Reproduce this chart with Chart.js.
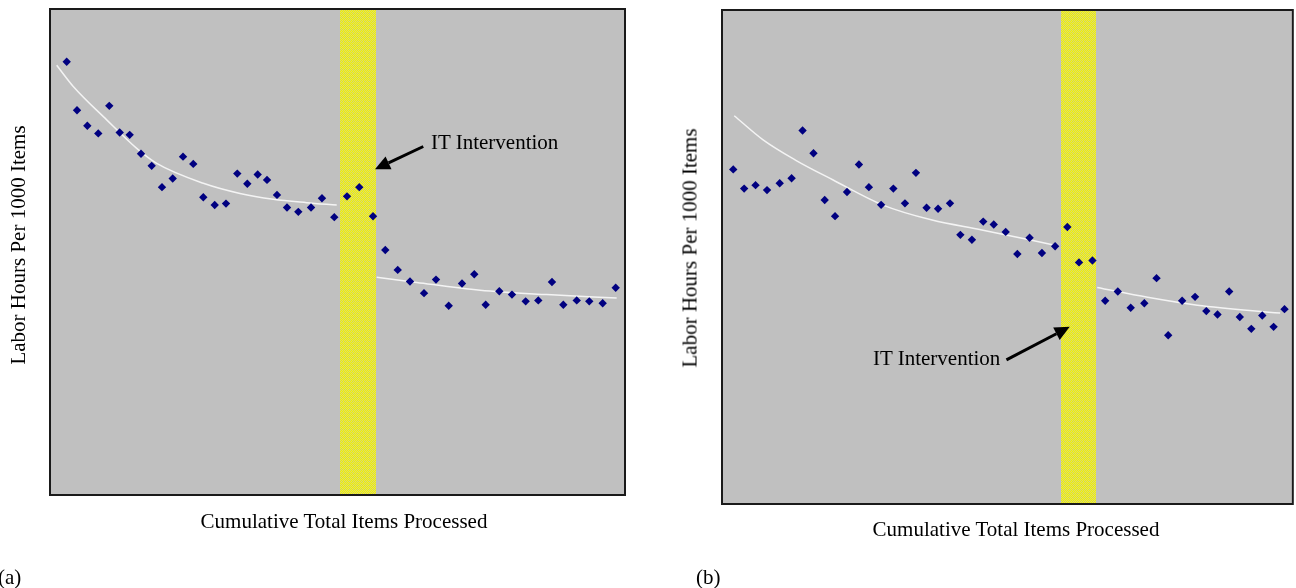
<!DOCTYPE html>
<html>
<head>
<meta charset="utf-8">
<script src="https://cdn.jsdelivr.net/npm/chart.js@4"></script>
<style>
  html, body { margin: 0; padding: 0; background: #ffffff; }
  body { width: 1296px; height: 588px; position: relative; overflow: hidden;
         font-family: "Liberation Serif", "Times New Roman", serif; color: #000; }
  canvas { position: absolute; top: 0; }
  .t { position: absolute; font-size: 21px; white-space: nowrap; line-height: 1; }
  .xt { transform: translate(-50%, -50%); }
  .yt { transform: translate(-50%, -50%) rotate(-90deg); }
  .lab { transform: translate(0, -50%); }
</style>
</head>
<body>
<canvas id="ca" width="648" height="588" style="left:0px;width:648px;height:588px"></canvas>
<canvas id="cb" width="648" height="588" style="left:648px;width:648px;height:588px"></canvas>

<div class="t yt" style="left:18px;top:245px">Labor Hours Per 1000 Items</div>
<div class="t xt" style="left:344px;top:521px">Cumulative Total Items Processed</div>
<div class="t yt" style="left:690px;top:248px">Labor Hours Per 1000 Items</div>
<div class="t xt" style="left:1016px;top:529px">Cumulative Total Items Processed</div>
<div class="t lab" style="left:-2px;top:577px">(a)</div>
<div class="t lab" style="left:696px;top:577px">(b)</div>
<div class="t lab" style="left:431px;top:142px">IT Intervention</div>
<div class="t lab" style="left:873px;top:358px">IT Intervention</div>

<script>
// ---------- Panel (a) data (x: cumulative items, relative 0-100; y: labor hours, relative 0-100) ----------
const xA = [2.74, 4.54, 6.34, 8.25, 10.17, 11.99, 13.73, 15.71, 17.57, 19.37, 21.24, 23.04, 24.83, 26.58, 28.57, 30.54,
            32.51, 34.26, 36.07, 37.70, 39.44, 41.19, 43.16, 45.38, 47.29, 49.44, 51.66, 53.80, 56.20,
            58.34, 60.51, 62.65, 65.10, 67.19, 69.41, 71.73, 73.87, 75.86, 78.24, 80.45, 82.84, 85.04, 87.43,
            89.41, 91.75, 93.94, 96.28, 98.55];
const yA = [89.3, 79.3, 76.1, 74.5, 80.2, 74.7, 74.2, 70.3, 67.8, 63.4, 65.2, 69.7, 68.2, 61.3, 59.7, 60.0,
            66.2, 64.1, 66.0, 64.9, 61.8, 59.2, 58.3, 59.2, 61.1, 57.2, 61.5, 63.4, 57.4,
            50.4, 46.3, 43.9, 41.5, 44.3, 38.9, 43.5, 45.4, 39.1, 41.9, 41.2, 39.8, 40.0, 43.8,
            39.1, 40.0, 39.8, 39.4, 42.6];
const trendPreXA  = [0.99, 3.89, 9.72, 14.96, 18.45, 26.58, 32.98, 38.80, 44.62, 49.86];
const trendPreYA  = [88.6, 84.2, 77.3, 71.4, 68.3, 64.2, 62.1, 60.9, 60.2, 59.7];
const trendPostXA = [56.84, 63.82, 74.87, 86.51, 98.72];
const trendPostYA = [44.8, 43.7, 42.1, 41.2, 40.5];
const bandA  = [50.35, 56.72];                 // intervention period
const arrowA = [64.97, 71.8, 56.54, 67.1];     // tail x, tail y, head x, head y

// ---------- Panel (b) data ----------
const xB = [1.80, 3.72, 5.72, 7.74, 9.97, 12.06, 13.99, 15.91, 17.88, 19.70, 21.80, 23.90, 25.65, 27.80, 29.95,
            31.99, 33.92, 35.79, 37.81, 39.91, 41.73, 43.76, 45.75, 47.60, 49.70, 51.75, 53.90, 56.07, 58.39,
            60.54, 62.59, 64.95,
            67.19, 69.41, 71.68, 74.07, 76.22, 78.27, 80.72, 82.99, 84.97, 86.94, 88.99, 90.86, 92.88,
            94.81, 96.80, 98.72];
const yB = [67.8, 63.9, 64.6, 63.6, 65.0, 66.0, 75.7, 71.1, 61.6, 58.3, 63.2, 68.8, 64.2, 60.6, 63.9,
            60.9, 67.1, 60.0, 59.8, 60.9, 54.5, 53.5, 57.2, 56.6, 55.1, 50.6, 53.9, 50.8, 52.2,
            56.1, 48.9, 49.3,
            41.1, 43.0, 39.7, 40.6, 45.7, 34.1, 41.1, 41.9, 39.0, 38.3, 43.0, 37.8, 35.4,
            38.1, 35.8, 39.4];
const trendPreXB  = [1.98, 7.05, 12.88, 19.28, 28.02, 36.77, 45.51, 58.34];
const trendPreYB  = [78.7, 73.8, 69.6, 65.7, 60.6, 57.5, 55.5, 52.4];
const trendPostXB = [65.79, 74.65, 83.39, 97.95];
const trendPostYB = [43.8, 41.8, 40.2, 38.6];
const bandB  = [59.39, 65.51];
const arrowB = [49.83, 29.1, 60.96, 35.8];

function pts(xs, ys) { return xs.map((x, i) => ({ x: x, y: ys[i] })); }

function yellowPattern(ctx) {
  const c = document.createElement('canvas');
  c.width = 4; c.height = 4;
  const g = c.getContext('2d');
  g.fillStyle = '#f2f200'; g.fillRect(0, 0, 4, 4);
  g.fillStyle = '#dada70';
  g.fillRect(0, 0, 1, 1); g.fillRect(2, 0, 1, 1); g.fillRect(1, 1, 1, 1); g.fillRect(3, 1, 1, 1);
  g.fillRect(0, 2, 1, 1); g.fillRect(2, 2, 1, 1); g.fillRect(1, 3, 1, 1); g.fillRect(3, 3, 1, 1);
  g.fillStyle = '#c8c8a8'; g.fillRect(1, 1, 1, 1);
  return ctx.createPattern(c, 'repeat');
}

const panelPlugin = {
  id: 'panel',
  beforeDraw(chart) {
    const { ctx, chartArea: a } = chart;
    ctx.save();
    ctx.fillStyle = '#c0c0c0';
    ctx.fillRect(a.left, a.top, a.right - a.left, a.bottom - a.top);
    ctx.restore();
  },
  beforeDatasetsDraw(chart, args, opts) {
    const { ctx, chartArea: a, scales } = chart;
    const x0 = Math.round(scales.x.getPixelForValue(opts.band[0]));
    const x1 = Math.round(scales.x.getPixelForValue(opts.band[1]));
    ctx.save();
    ctx.imageSmoothingEnabled = false;
    ctx.fillStyle = yellowPattern(ctx);
    ctx.fillRect(x0, Math.round(a.top), x1 - x0, Math.round(a.bottom - a.top));
    ctx.restore();
  },
  afterDatasetsDraw(chart, args, opts) {
    const { ctx, scales } = chart;
    const tx = scales.x.getPixelForValue(opts.arrow[0]);
    const ty = scales.y.getPixelForValue(opts.arrow[1]);
    const hx = scales.x.getPixelForValue(opts.arrow[2]);
    const hy = scales.y.getPixelForValue(opts.arrow[3]);
    const ang = Math.atan2(hy - ty, hx - tx);
    const L = 15, W = 7;
    const bx = hx - L * Math.cos(ang), by = hy - L * Math.sin(ang);
    ctx.save();
    ctx.strokeStyle = '#000'; ctx.fillStyle = '#000';
    ctx.lineWidth = 3;
    ctx.beginPath(); ctx.moveTo(tx, ty); ctx.lineTo(bx, by); ctx.stroke();
    ctx.beginPath();
    ctx.moveTo(hx, hy);
    ctx.lineTo(bx + W * Math.sin(ang), by - W * Math.cos(ang));
    ctx.lineTo(bx - W * Math.sin(ang), by + W * Math.cos(ang));
    ctx.closePath(); ctx.fill();
    ctx.restore();
  },
  afterDraw(chart) {
    const { ctx, chartArea: a } = chart;
    ctx.save();
    ctx.strokeStyle = '#1a1a1a';
    ctx.lineWidth = 2;
    ctx.strokeRect(a.left - 1, a.top - 1, a.right - a.left + 2, a.bottom - a.top + 2);
    ctx.restore();
  }
};

function makeChart(id, padding, xs, ys, preX, preY, postX, postY, band, arrow) {
  const trendStyle = {
    type: 'line', showLine: true, pointRadius: 0, borderColor: '#f4f4f4', borderWidth: 1.5,
    cubicInterpolationMode: 'monotone', fill: false
  };
  return new Chart(document.getElementById(id), {
    type: 'scatter',
    data: {
      datasets: [
        { label: 'Labor hours', data: pts(xs, ys), pointStyle: 'rectRot', pointRadius: 4.2,
          backgroundColor: '#000080', borderColor: '#000080', borderWidth: 0, showLine: false },
        Object.assign({ label: 'Trend before', data: pts(preX, preY) }, trendStyle),
        Object.assign({ label: 'Trend after', data: pts(postX, postY) }, trendStyle)
      ]
    },
    options: {
      responsive: false, animation: false, devicePixelRatio: 1,
      layout: { padding: padding },
      scales: {
        x: { type: 'linear', min: 0, max: 100, display: false },
        y: { type: 'linear', min: 0, max: 100, display: false }
      },
      plugins: {
        legend: { display: false }, title: { display: false }, tooltip: { enabled: false },
        panel: { band: band, arrow: arrow }
      }
    },
    plugins: [panelPlugin]
  });
}

makeChart('ca', { left: 51, top: 10, right: 24, bottom: 94 }, xA, yA,
          trendPreXA, trendPreYA, trendPostXA, trendPostYA, bandA, arrowA);
makeChart('cb', { left: 75, top: 11, right: 1, bottom: 85 }, xB, yB,
          trendPreXB, trendPreYB, trendPostXB, trendPostYB, bandB, arrowB);
</script>
</body>
</html>
